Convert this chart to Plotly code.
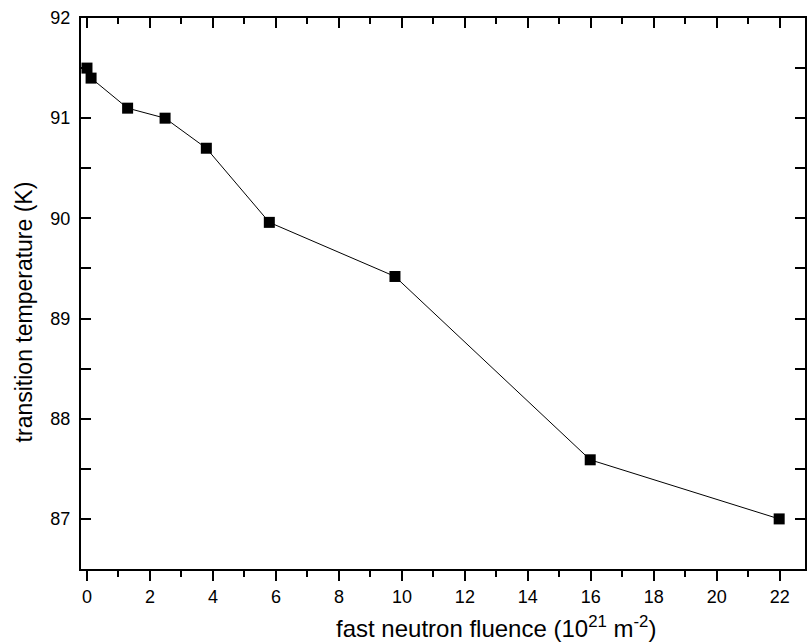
import plotly.graph_objects as go

fluence = [0.0, 0.13, 1.29, 2.48, 3.79, 5.79, 9.78, 15.98, 21.98]
tc = [91.50, 91.40, 91.10, 91.00, 90.70, 89.96, 89.42, 87.59, 87.00]

x_range = [-0.19, 22.8]
y_range = [86.5, 92.0]

x_title = "fast neutron fluence (10<sup>21</sup> m<sup>-2</sup>)"
y_title = "transition temperature (K)"

fig = go.Figure()
fig.add_trace(go.Scatter(
    x=fluence, y=tc, mode="lines+markers",
    line=dict(color="black", width=1),
    marker=dict(symbol="square", size=11, color="black"),
    showlegend=False,
))
# invisible trace for top axis
fig.add_trace(go.Scatter(x=[None], y=[None], xaxis="x2", showlegend=False))

font = "Liberation Sans, Arial, sans-serif"
fig.update_layout(
    width=807, height=643,
    margin=dict(l=81, r=0, t=18, b=74),
    plot_bgcolor="white", paper_bgcolor="white",
    font=dict(family=font, color="black", size=18),
    xaxis=dict(
        range=x_range, dtick=2, tick0=0,
        showline=True, linewidth=2, linecolor="black",
        ticks="outside", ticklen=10, tickwidth=2, tickcolor="black",
        minor=dict(dtick=1, ticklen=6, tickwidth=2, tickcolor="black", ticks="outside"),
        showgrid=False, zeroline=False,
        tickfont=dict(size=18),
    ),
    xaxis2=dict(
        range=x_range, dtick=2, tick0=0, overlaying="x", side="top",
        showline=True, linewidth=2, linecolor="black",
        ticks="inside", ticklen=10, tickwidth=2, tickcolor="black",
        minor=dict(dtick=1, ticklen=6, tickwidth=2, tickcolor="black", ticks="inside"),
        showgrid=False, zeroline=False, showticklabels=False,
    ),
    yaxis=dict(
        range=y_range, dtick=1, tick0=87,
        showline=True, linewidth=2, linecolor="black", mirror="allticks",
        ticks="inside", ticklen=10, tickwidth=2, tickcolor="black",
        minor=dict(dtick=0.5, ticklen=5, tickwidth=2, tickcolor="black", ticks="inside"),
        showgrid=False, zeroline=False, ticklabelstandoff=5,
        tickfont=dict(size=18),
    ),
    annotations=[
        dict(text=x_title, xref="paper", yref="paper", x=0.573, y=-0.105,
             xanchor="center", yanchor="middle", showarrow=False,
             font=dict(size=24)),
        dict(text=y_title, xref="paper", yref="paper", x=-0.0785, y=0.466,
             xanchor="center", yanchor="middle", showarrow=False, textangle=-90,
             font=dict(size=23)),
    ],
)

fig.write_html("out.html")
